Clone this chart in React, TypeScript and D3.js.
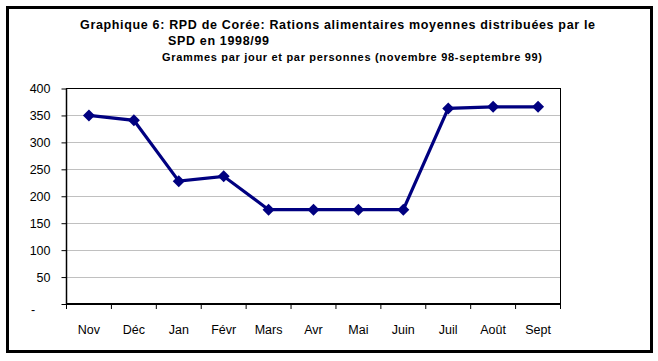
import * as d3 from 'd3';
import {useEffect, useRef} from 'react';

const months = ['Nov', 'Déc', 'Jan', 'Févr', 'Mars', 'Avr', 'Mai', 'Juin', 'Juil', 'Août', 'Sept'];
const rations = [350, 341, 228, 237, 175, 175, 175, 175, 363, 366, 366];
const yTicks = [0, 50, 100, 150, 200, 250, 300, 350, 400];

const width = 658;
const height = 361;
const font = 'Arial, "Liberation Sans", sans-serif';

const App = () => {
    const ref = useRef<SVGSVGElement>(null);

    const margins = {top: 88.5, right: 97.5, bottom: 57, left: 66.5};

    useEffect(() => {
        const svg = d3.select(ref.current);
        svg.selectAll('*').remove();

        svg.append('rect')
            .attr('width', width)
            .attr('height', height)
            .attr('fill', '#fff');

        // outer frame, drawn as four filled bars
        const frame = [
            {x: 6, y: 6, w: 647, h: 3},
            {x: 6, y: 350, w: 647, h: 3},
            {x: 6, y: 6, w: 3, h: 347},
            {x: 650, y: 6, w: 3, h: 347},
        ];
        svg.append('g')
            .selectAll('rect')
            .data(frame)
            .join('rect')
            .attr('x', (d) => d.x)
            .attr('y', (d) => d.y)
            .attr('width', (d) => d.w)
            .attr('height', (d) => d.h)
            .attr('fill', '#000');

        const title = svg.append('g')
            .attr('font-family', font)
            .attr('font-weight', 'bold')
            .attr('fill', '#000');
        title.append('text')
            .attr('x', 80)
            .attr('y', 29)
            .attr('font-size', 12.5)
            .attr('textLength', 515)
            .attr('lengthAdjust', 'spacing')
            .text('Graphique 6: RPD de Corée: Rations alimentaires moyennes distribuées par le');
        title.append('text')
            .attr('x', 168)
            .attr('y', 45)
            .attr('font-size', 12.5)
            .attr('textLength', 101)
            .attr('lengthAdjust', 'spacing')
            .text('SPD en 1998/99');
        title.append('text')
            .attr('x', 162)
            .attr('y', 61)
            .attr('font-size', 11)
            .attr('textLength', 380)
            .attr('lengthAdjust', 'spacing')
            .text('Grammes par jour et par personnes (novembre 98-septembre 99)');

        const x0 = margins.left;
        const x1 = width - margins.right;
        const y0 = height - margins.bottom;
        const y1 = margins.top;

        const xScale = d3.scaleBand<string>().domain(months).range([x0, x1]);
        const yScale = d3.scaleLinear().domain([0, 400]).range([y0, y1]);

        // gridlines
        svg.append('g')
            .selectAll('line')
            .data(yTicks.filter((t) => t > 0 && t < 400))
            .join('line')
            .attr('x1', x0)
            .attr('x2', x1)
            .attr('y1', (d) => Math.round(yScale(d)) + 0.5)
            .attr('y2', (d) => Math.round(yScale(d)) + 0.5)
            .attr('stroke', '#c0c0c0')
            .attr('stroke-width', 1);

        // plot frame
        svg.append('rect')
            .attr('x', x0)
            .attr('y', y1)
            .attr('width', x1 - x0)
            .attr('height', y0 - y1)
            .attr('fill', 'none')
            .attr('stroke', '#000')
            .attr('stroke-width', 1);

        const yAxis = d3
            .axisLeft(yScale)
            .tickValues(yTicks)
            .tickSize(5)
            .tickPadding(11)
            .tickFormat((d) => (+d === 0 ? '' : `${d}`));
        const gy = svg.append('g').attr('transform', `translate(${x0}, 0)`).call(yAxis);
        gy.select('.domain').remove();
        gy.selectAll('text')
            .attr('font-family', font)
            .attr('font-size', 12.5)
            .attr('fill', '#000');

        svg.append('text')
            .attr('x', 33)
            .attr('y', yScale(0) + 10)
            .attr('text-anchor', 'middle')
            .attr('font-family', font)
            .attr('font-size', 12.5)
            .text('-');

        // x axis, ticks sit between categories
        const xAxis = d3.axisBottom(xScale).tickSize(0).tickPadding(21);
        const gx = svg.append('g').attr('transform', `translate(0, ${y0})`).call(xAxis);
        gx.select('.domain').remove();
        gx.selectAll('text')
            .attr('font-family', font)
            .attr('font-size', 12.5)
            .attr('fill', '#000');

        svg.append('g')
            .selectAll('line')
            .data(months.concat(['end']))
            .join('line')
            .attr('x1', (_, i) => x0 + i * xScale.bandwidth())
            .attr('x2', (_, i) => x0 + i * xScale.bandwidth())
            .attr('y1', y0)
            .attr('y2', y0 + 5)
            .attr('stroke', '#000');

        svg.append('line')
            .attr('x1', x0)
            .attr('x2', x1)
            .attr('y1', y0)
            .attr('y2', y0)
            .attr('stroke', '#000')
            .attr('stroke-width', 2);
        svg.append('line')
            .attr('x1', x0)
            .attr('x2', x0)
            .attr('y1', y1)
            .attr('y2', y0)
            .attr('stroke', '#000')
            .attr('stroke-width', 1.5);

        const cx = (d: string) => (xScale(d) ?? 0) + xScale.bandwidth() / 2;

        const line = d3
            .line<number>()
            .x((_, i) => cx(months[i]))
            .y((d) => yScale(d));

        svg.append('path')
            .datum(rations)
            .attr('d', line)
            .attr('fill', 'none')
            .attr('stroke', '#000080')
            .attr('stroke-width', 3.2);

        const diamond = d3.symbol().type(d3.symbolSquare).size(72);
        svg.append('g')
            .selectAll('path')
            .data(rations)
            .join('path')
            .attr('d', diamond)
            .attr('transform', (d, i) => `translate(${cx(months[i])}, ${yScale(d)}) rotate(45)`)
            .attr('fill', '#000080');
    }, []);

    return (
        <svg
            ref={ref}
            width={width}
            height={height}
            style={{position: 'absolute', left: 0, top: 0, display: 'block'}}
        ></svg>
    );
};

export default App;
